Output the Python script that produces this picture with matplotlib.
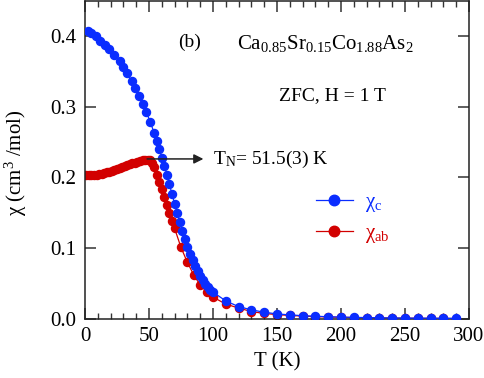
import matplotlib
matplotlib.use("Agg")
import matplotlib.pyplot as plt
from matplotlib.ticker import MultipleLocator

plt.rcParams['font.family'] = ['Liberation Serif', 'DejaVu Serif']
plt.rcParams['mathtext.fontset'] = 'custom'
plt.rcParams['mathtext.rm'] = 'Liberation Serif'
plt.rcParams['mathtext.it'] = 'Liberation Serif:italic'
plt.rcParams['mathtext.bf'] = 'Liberation Serif:bold'

# chi_c (blue)
T_c = [2, 5, 8.5, 12, 15.5, 19, 23, 27, 30, 32.5, 36.5, 39, 42.5, 45.5, 48, 51, 54, 56,
       58, 60, 62, 64, 66, 68, 70, 72, 74, 76, 78, 80, 82, 84, 86, 88, 90, 92, 94, 96,
       98, 100, 110, 120, 130, 140, 150, 160, 170, 180, 190, 200, 210, 220, 230, 240,
       250, 260, 270, 280, 290]
chi_c = [0.407, 0.404, 0.399, 0.393, 0.387, 0.381, 0.373, 0.364, 0.356, 0.347, 0.336,
         0.326, 0.315, 0.304, 0.292, 0.278, 0.263, 0.251, 0.240, 0.228, 0.216, 0.204,
         0.190, 0.176, 0.163, 0.149, 0.137, 0.124, 0.113, 0.102, 0.092, 0.083, 0.075,
         0.068, 0.061, 0.055, 0.050, 0.045, 0.041, 0.038, 0.0255, 0.0175, 0.0130,
         0.0095, 0.0072, 0.0058, 0.0047, 0.0039, 0.0032, 0.0027, 0.0023, 0.0020,
         0.0017, 0.0015, 0.0013, 0.0012, 0.0011, 0.0010, 0.0009]

# chi_ab (red)
T_ab = [1, 3, 5, 7, 9, 11, 13, 15, 17, 19, 21, 23, 25, 27, 29, 31, 33, 35, 37, 39, 41,
        43, 45, 47, 49, 50.5, 52, 54, 56, 58, 60, 62, 64, 66, 68, 70, 75, 80, 85, 90,
        95, 100, 110, 120, 130, 140, 150, 160, 170, 180, 190, 200, 210, 220, 230, 240,
        250, 260, 270, 280, 290]
chi_ab = [0.2030, 0.2031, 0.2033, 0.2036, 0.2040, 0.2046, 0.2053, 0.2061, 0.2070,
          0.2080, 0.2091, 0.2103, 0.2116, 0.2130, 0.2143, 0.2157, 0.2170, 0.2183,
          0.2196, 0.2208, 0.2219, 0.2229, 0.2238, 0.2245, 0.2248, 0.2240, 0.2205,
          0.2140, 0.2035, 0.1930, 0.1830, 0.1720, 0.1610, 0.1500, 0.1390, 0.1280,
          0.1010, 0.0800, 0.0620, 0.0480, 0.0385, 0.0310, 0.0210, 0.0155, 0.0105,
          0.0078, 0.0062, 0.0050, 0.0041, 0.0034, 0.0028, 0.0024, 0.0020, 0.0017,
          0.0015, 0.0013, 0.0011, 0.0010, 0.0009, 0.0008, 0.0007]

BLUE = '#0a2dff'
RED = '#d20000'

fig = plt.figure(figsize=(4.84, 3.78), dpi=100)
ax = fig.add_axes([85/484, (378-319)/378, 384/484, 318/378])

l_ab, = ax.plot(T_ab, chi_ab, '-o', color=RED, ms=5.8, lw=0.9, mec=RED, zorder=2)
l_c, = ax.plot(T_c, chi_c, '-o', color=BLUE, ms=5.8, lw=0.9, mec=BLUE, zorder=3)

ax.set_xlim(0, 300)
ax.set_ylim(0, 0.449)
ax.xaxis.set_major_locator(MultipleLocator(50))
ax.xaxis.set_minor_locator(MultipleLocator(10))
ax.yaxis.set_major_locator(MultipleLocator(0.1))
ax.yaxis.set_major_formatter(matplotlib.ticker.FormatStrFormatter('%.1f'))
ax.tick_params(which='both', direction='in', top=True, right=True, labelsize=15,
               color='#333333', pad=6)
ax.tick_params(which='major', length=8, width=1.1)
ax.tick_params(which='minor', length=4, width=1.0)
for s in ax.spines.values():
    s.set_linewidth(1.1)
    s.set_color('#222222')

ax.set_xlabel('T (K)', fontsize=15, labelpad=4)
ax.set_ylabel('χ (cm$^{3}$ /mol)', fontsize=15)
ax.yaxis.set_label_coords(-0.145, 0.49)

ax.text(82, 0.391, '(b)', fontsize=14, ha='center', va='center')
ax.text(188, 0.389, 'Ca$_{0.85}$Sr$_{0.15}$Co$_{1.88}$As$_{2}$', fontsize=15,
        ha='center', va='center')
ax.text(193, 0.316, 'ZFC, H = 1 T', fontsize=14, ha='center', va='center')

ax.annotate('', xy=(92.5, 0.226), xytext=(48.5, 0.226),
            arrowprops=dict(arrowstyle='-|>', color='#222222', lw=1.1,
                            mutation_scale=14, shrinkA=0, shrinkB=0), zorder=5)
ax.text(100, 0.226, 'T$_{\\mathrm{N}}$= 51.5(3) K', fontsize=14, ha='left', va='center')

leg = ax.legend([l_c, l_ab], ['χ$_{\\mathrm{c}}$', 'χ$_{\\mathrm{ab}}$'],
                loc='center left', bbox_to_anchor=(0.602, 0.314), frameon=False,
                fontsize=15, handlelength=1.75, handletextpad=0.6, borderpad=0,
                borderaxespad=0, labelspacing=0.45, labelcolor='linecolor',
                markerscale=1.3)

fig.savefig('out.png', dpi=100)
